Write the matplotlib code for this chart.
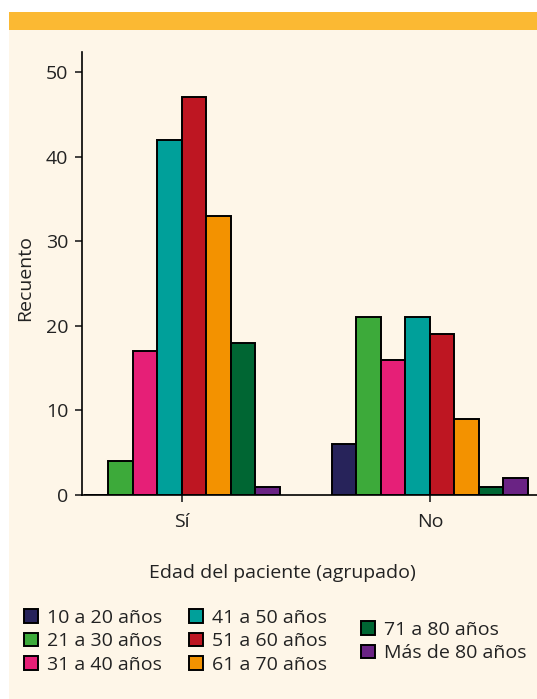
import numpy as np
import matplotlib.pyplot as plt
from matplotlib.patches import Rectangle

plt.rcParams['font.family'] = ['Open Sans', 'DejaVu Sans']

groups = ['Sí', 'No']
age_labels = ['10 a 20 años', '21 a 30 años', '31 a 40 años', '41 a 50 años',
              '51 a 60 años', '61 a 70 años', '71 a 80 años', 'Más de 80 años']
counts_si = [0, 4, 17, 42, 47, 33, 18, 1]
counts_no = [6, 21, 16, 21, 19, 9, 1, 2]
colors = ['#27235A', '#3DAA3A', '#E61F77', '#00A09A',
          '#BE1622', '#F39200', '#006633', '#6A2384']

fig = plt.figure(figsize=(5.37, 6.99), dpi=100)
fig.patch.set_facecolor('white')

# cream panel + orange header band
fig.patches.append(Rectangle((9/537, 0), 1 - 9/537, 1 - 12/699, transform=fig.transFigure,
                             facecolor='#FEF6E8', edgecolor='none', zorder=-10))
fig.patches.append(Rectangle((9/537, 1 - 30/699), 1 - 9/537, 18/699, transform=fig.transFigure,
                             facecolor='#FBB933', edgecolor='none', zorder=-9))

ax = fig.add_axes([82/537, 1 - 495/699, 1 - 82/537, (495 - 52)/699])
ax.set_facecolor('none')

x = np.arange(len(groups))
width = 0.0988
bars = []
for i in range(len(age_labels)):
    vals = [counts_si[i], counts_no[i]]
    b = ax.bar(x + (i - 3.5) * width, vals, width, color=colors[i],
               edgecolor='black', linewidth=1.4, label=age_labels[i], zorder=3)
    bars.append(b)

fs = 14
ax.set_xlim(-0.403, 1.432)
ax.set_ylim(0, 52.36)
ax.set_yticks([0, 10, 20, 30, 40, 50])
ax.set_xticks(x)
ax.set_xticklabels(groups)
ax.tick_params(axis='both', direction='out', length=5, width=1.2, labelsize=fs,
               colors='#222222')
ax.tick_params(axis='x', pad=8)
ax.tick_params(axis='y', pad=5)
for s in ['top', 'right']:
    ax.spines[s].set_visible(False)
for s in ['left', 'bottom']:
    ax.spines[s].set_linewidth(1.2)

ax.set_ylabel('Recuento', fontsize=fs, color='#222222')
ax.yaxis.set_label_coords(-0.105, 0.49)
fig.text(282/537, 1 - 573/699, 'Edad del paciente (agrupado)', ha='center', va='center',
         fontsize=fs, color='#222222')

leg_kw = dict(frameon=False, fontsize=fs, handlelength=0.7, handleheight=0.7,
              handletextpad=0.5, labelspacing=0.27, borderaxespad=0, borderpad=0)
cols = [(0, 3, 24, 609), (3, 6, 189, 609), (6, 8, 361, 621)]
for a, b_, px, py in cols:
    lg = fig.legend([bars[k] for k in range(a, b_)], age_labels[a:b_], loc='upper left',
                    bbox_to_anchor=(px/537, 1 - py/699), **leg_kw)
    for t in lg.get_texts():
        t.set_color('#222222')

fig.savefig('out.png', dpi=100)
